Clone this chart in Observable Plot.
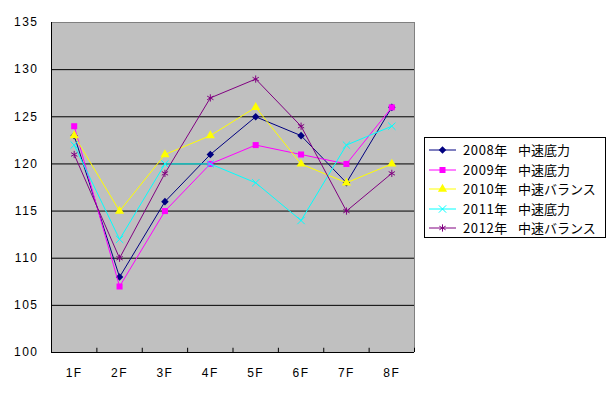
<!DOCTYPE html>
<html><head><meta charset="utf-8">
<script src="https://cdn.jsdelivr.net/npm/d3@7"></script>
<script src="https://cdn.jsdelivr.net/npm/@observablehq/plot@0.6"></script>
<style>
body{margin:0;background:#fff;}
#wrap{position:relative;width:610px;height:393px;font-family:"Liberation Sans","Noto Sans CJK JP",sans-serif;}
#legend{position:absolute;left:424px;top:137px;width:182px;height:101px;border:1px solid #000;background:#fff;box-sizing:border-box;}
.row{position:absolute;left:4px;height:20px;width:176px;font-size:13px;line-height:18px;font-family:"Noto Sans CJK JP",sans-serif;white-space:nowrap;}
.row svg{position:absolute;left:0;top:0;}
.row .yr{position:absolute;left:34px;top:1px;letter-spacing:0.6px;}
.row .nm{position:absolute;left:89px;top:1px;letter-spacing:0px;}
</style></head><body><div id="wrap"></div>
<script>
const floors = ["1F","2F","3F","4F","5F","6F","7F","8F"];
const seriesYears = ["2008年","2009年","2010年","2011年","2012年"];
const seriesTypes = ["中速底力","中速底力","中速バランス","中速底力","中速バランス"];
const v2008 = [123,108,116,121,125,123,118,126];
const v2009 = [124,107,115,120,122,121,120,126];
const v2010 = [123,115,121,123,126,120,118,120];
const v2011 = [122,112,120,120,118,114,122,124];
const v2012 = [121,110,119,127,129,124,115,119];
const yTicks = [100,105,110,115,120,125,130,135];

const seriesValues = [v2008,v2009,v2010,v2011,v2012];
const seriesColors = ["#000080","#FF00FF","#FFFF00","#00FFFF","#800080"];
const seriesSymbols = ["diamond2","square","triangle","times","asterisk"];
const filled = [true,true,true,false,false];

const data = [];
seriesValues.forEach((vals,s)=>vals.forEach((v,i)=>data.push({s, i, x:i+0.5, floor:floors[i], v})));
const idx = floors.map((f,i)=>i);

const marks = [
  Plot.frame({fill:"#c0c0c0", stroke:null}),
  Plot.ruleY(yTicks.slice(1,-1), {stroke:"#000", strokeWidth:1}),
  Plot.ruleY([yTicks[yTicks.length-1]], {stroke:"#808080"}),
  Plot.ruleX([floors.length], {stroke:"#808080"}),
  Plot.ruleY([yTicks[0]], {stroke:"#000"}),
  Plot.ruleX([0], {stroke:"#000"}),
  Plot.ruleX(idx.map(i=>i+1), {x:d=>d, y1:yTicks[0], y2:yTicks[0]+0.45, stroke:"#000"}),
  Plot.axisY({ticks:yTicks, tickSize:0, tickPadding:13, fontSize:12, label:null}),
  Plot.axisX({ticks:idx.map(i=>i+0.5), tickFormat:d=>floors[Math.floor(d)], tickSize:0, tickPadding:16, fontSize:12, label:null}),
];
seriesValues.forEach((vals,s)=>{
  const d = data.filter(r=>r.s===s);
  marks.push(Plot.line(d, {x:"x", y:"v", stroke:seriesColors[s], strokeWidth:1}));
  marks.push(Plot.dot(d, {x:"x", y:"v", symbol:()=>seriesSymbols[s], r:3.4,
    fill: filled[s] ? seriesColors[s] : "none", stroke: seriesColors[s], strokeWidth: filled[s]?0:1}));
});

const chart = Plot.plot({
  width:610, height:393,
  marginLeft:51, marginRight:196, marginTop:22, marginBottom:41,
  style:{fontFamily:"Liberation Sans, sans-serif", fontSize:"12px", color:"#000", background:"#fff"},
  x:{type:"linear", domain:[0,floors.length], axis:null},
  y:{domain:[yTicks[0], yTicks[yTicks.length-1]], axis:null},
  symbol:{type:"identity"},
  marks
});
const wrap = document.getElementById("wrap");
wrap.appendChild(chart);
chart.querySelectorAll("text").forEach(t=>t.setAttribute("letter-spacing","1.5"));

const legend = document.createElement("div");
legend.id = "legend";
const symMap = {diamond2:d3.symbolDiamond2, square:d3.symbolSquare, triangle:d3.symbolTriangle, times:d3.symbolTimes, asterisk:d3.symbolAsterisk};
seriesYears.forEach((yr,s)=>{
  const row = document.createElement("div");
  row.className = "row";
  row.style.top = (2 + s*19.5) + "px";
  const sv = d3.create("svg").attr("width",32).attr("height",20);
  sv.append("line").attr("x1",0).attr("x2",27).attr("y1",10).attr("y2",10).attr("stroke",seriesColors[s]).attr("stroke-width",1);
  sv.append("path").attr("transform","translate(13.5,10)")
    .attr("d", d3.symbol(symMap[seriesSymbols[s]], 3.4*3.4*Math.PI)())
    .attr("fill", filled[s]?seriesColors[s]:"none").attr("stroke", filled[s]?"none":seriesColors[s]).attr("stroke-width",1);
  row.appendChild(sv.node());
  const a = document.createElement("span"); a.className="yr"; a.textContent=yr; row.appendChild(a);
  const b = document.createElement("span"); b.className="nm"; b.textContent=seriesTypes[s]; row.appendChild(b);
  legend.appendChild(row);
});
wrap.appendChild(legend);
</script></body></html>
